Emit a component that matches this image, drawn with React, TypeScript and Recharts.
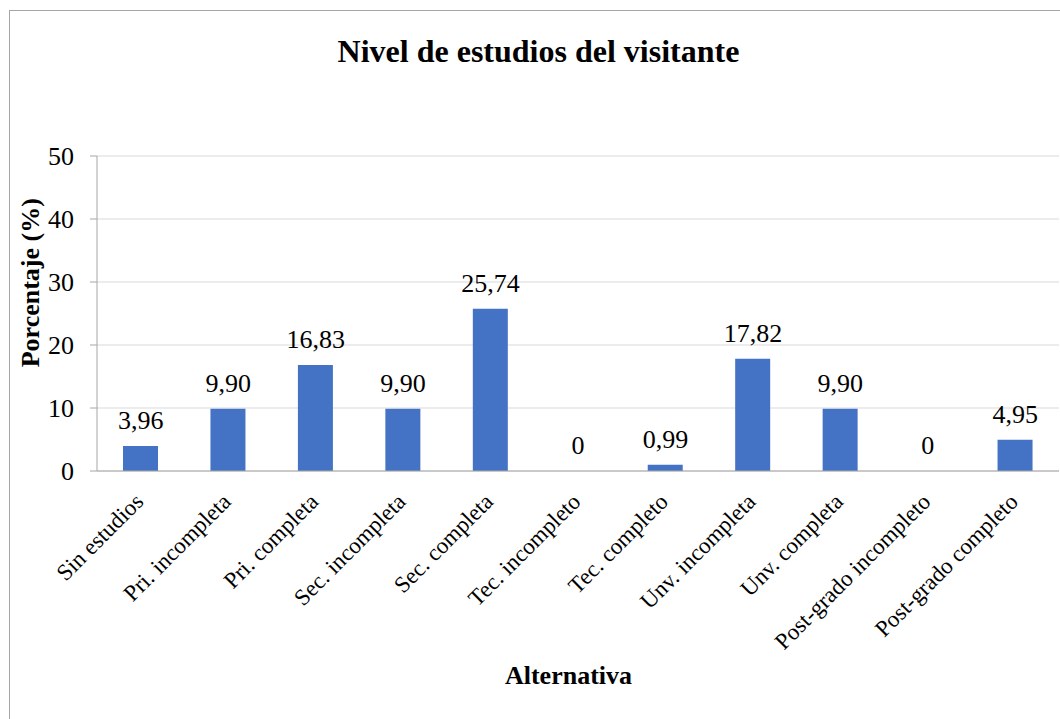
import React from 'react';
import { ComposedChart, Bar, Line, XAxis, YAxis, CartesianGrid, LabelList } from 'recharts';

const categories = [
  'Sin estudios',
  'Pri. incompleta',
  'Pri. completa',
  'Sec. incompleta',
  'Sec. completa',
  'Tec. incompleto',
  'Tec. completo',
  'Unv. incompleta',
  'Unv. completa',
  'Post-grado incompleto',
  'Post-grado completo',
];
const percentages = [3.96, 9.9, 16.83, 9.9, 25.74, 0, 0.99, 17.82, 9.9, 0, 4.95];
const yTicks = [0, 10, 20, 30, 40, 50];

const title = 'Nivel de estudios del visitante';
const xTitle = 'Alternativa';
const yTitle = 'Porcentaje (%)';

const data = categories.map((name, i) => ({ name, value: percentages[i] }));

const FONT = '"Liberation Serif", "Times New Roman", Times, serif';

const fmt = (v: any) => {
  const n = Number(v);
  return n === 0 ? '0' : n.toFixed(2).replace('.', ',');
};

const XTick = (props: any) => {
  const { x, y, payload } = props;
  const px = x + 4;
  const py = y + 32;
  return (
    <text
      x={px}
      y={py}
      transform={`rotate(-45, ${px}, ${py})`}
      textAnchor="end"
      fontFamily={FONT}
      fontSize={23}
      fill="#000"
    >
      {payload.value}
    </text>
  );
};

const YTick = (props: any) => {
  const { x, y, payload } = props;
  return (
    <text x={x} y={y} dy="0.355em" textAnchor="end" fontFamily={FONT} fontSize={26} fill="#000">
      {payload.value}
    </text>
  );
};

const ValueLabel = (props: any) => {
  const { x, y, value } = props;
  return (
    <text x={x} y={y - 17} textAnchor="middle" fontFamily={FONT} fontSize={26} fill="#000">
      {fmt(value)}
    </text>
  );
};

export default function App() {
  return (
    <div
      style={{
        position: 'absolute',
        left: 9,
        top: 10,
        width: 1051,
        height: 709,
        borderTop: '1px solid #a6a6a6',
        borderLeft: '1px solid #a6a6a6',
        boxSizing: 'border-box',
        background: '#fff',
        fontFamily: FONT,
      }}
    >
      <div style={{ position: 'absolute', left: 0, top: 0 }}>
        <ComposedChart
          width={1050}
          height={708}
          data={data}
          margin={{ top: 145, right: 1, bottom: 0, left: 0 }}
          barSize={35}
        >
          <CartesianGrid horizontal vertical={false} stroke="#d9d9d9" />
          <XAxis
            dataKey="name"
            interval={0}
            height={248}
            tickLine={false}
            tickSize={0}
            tickMargin={0}
            axisLine={{ stroke: '#a6a6a6' }}
            tick={<XTick />}
          />
          <YAxis
            width={87}
            domain={[0, 50]}
            ticks={yTicks}
            interval={0}
            tickSize={7}
            tickMargin={16}
            axisLine={{ stroke: '#a6a6a6' }}
            tickLine={{ stroke: '#a6a6a6' }}
            tick={<YTick />}
          />
          <Bar dataKey="value" fill="#4472C4" isAnimationActive={false} />
          <Line
            dataKey="value"
            stroke="none"
            dot={false}
            activeDot={false}
            legendType="none"
            isAnimationActive={false}
          >
            <LabelList dataKey="value" content={<ValueLabel />} />
          </Line>
        </ComposedChart>
      </div>
      <svg
        width={1050}
        height={708}
        style={{ position: 'absolute', left: 0, top: 0, pointerEvents: 'none' }}
      >
        <text x={528.5} y={51} textAnchor="middle" fontFamily={FONT} fontSize={32} fontWeight="bold" fill="#000">
          {title}
        </text>
        <text x={558.5} y={673} textAnchor="middle" fontFamily={FONT} fontSize={26} fontWeight="bold" fill="#000">
          {xTitle}
        </text>
        <text
          x={29.5}
          y={271.7}
          transform="rotate(-90, 29.5, 271.7)"
          textAnchor="middle"
          fontFamily={FONT}
          fontSize={26}
          fontWeight="bold"
          fill="#000"
        >
          {yTitle}
        </text>
      </svg>
    </div>
  );
}
